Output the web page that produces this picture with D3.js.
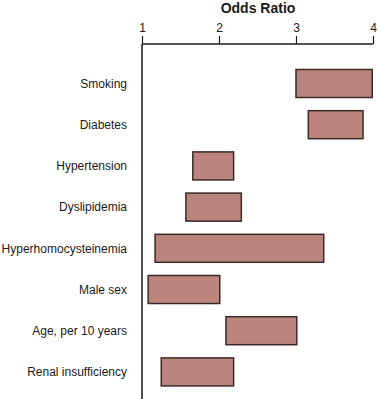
<!DOCTYPE html>
<html>
<head>
<meta charset="utf-8">
<script src="https://cdn.jsdelivr.net/npm/d3@7"></script>
<style>
  body { margin: 0; background: #fff; }
  svg { display: block; font-family: "Liberation Sans", Arial, sans-serif; }
</style>
</head>
<body>
<svg id="chart"></svg>
<script>
// factores de riesgo y rango del odds ratio
const factors = ["Smoking", "Diabetes", "Hypertension", "Dyslipidemia",
  "Hyperhomocysteinemia", "Male sex", "Age, per 10 years", "Renal insufficiency"];
const lowOR = [3.0, 3.16, 1.66, 1.57, 1.17, 1.08, 2.09, 1.25];
const highOR = [3.99, 3.87, 2.19, 2.29, 3.36, 2.01, 3.01, 2.19];
const ticks = [1, 2, 3, 4];

const width = 378, height = 399;
const margin = { top: 44, left: 142, right: 5 };

const data = factors.map((f, i) => ({ name: f, lo: lowOR[i], hi: highOR[i] }));

const svg = d3.select("#chart")
  .attr("width", width)
  .attr("height", height);

const x = d3.scaleLinear()
  .domain([1, 4])
  .range([margin.left, 373]);

const y = d3.scaleBand()
  .domain(factors)
  .range([62.9, 392.5])
  .paddingInner(0.32)
  .paddingOuter(0.16);

// titulo
svg.append("text")
  .attr("x", 258)
  .attr("y", 13)
  .attr("text-anchor", "middle")
  .attr("font-size", 14)
  .attr("font-weight", "bold")
  .attr("fill", "#1a1a1a")
  .text("Odds Ratio");

// eje superior
const axis = svg.append("g")
  .attr("transform", `translate(0,${margin.top})`)
  .style("color", "#1a1a1a")
  .call(d3.axisTop(x).tickValues(ticks).tickFormat(d3.format("d")).tickSize(8).tickPadding(4));
axis.select(".domain").attr("stroke-width", 1.5).attr("d", `M${x(1)},0H${x(4)}`);
axis.selectAll(".tick line").attr("stroke-width", 1.2);
axis.selectAll(".tick text").attr("font-size", 12).attr("fill", "#1a1a1a")
  .attr("font-family", "Liberation Sans, Arial, sans-serif");

// linea vertical en OR = 1
svg.append("line")
  .attr("x1", x(1)).attr("x2", x(1))
  .attr("y1", margin.top).attr("y2", height)
  .attr("stroke", "#1a1a1a")
  .attr("stroke-width", 1.5);

// etiquetas
svg.append("g")
  .selectAll("text")
  .data(data)
  .join("text")
  .attr("x", 127)
  .attr("y", d => y(d.name) + y.bandwidth() / 2)
  .attr("dy", "0.35em")
  .attr("text-anchor", "end")
  .attr("font-size", 12)
  .attr("fill", "#1a1a1a")
  .text(d => d.name);

// barras
svg.append("g")
  .selectAll("rect")
  .data(data)
  .join("rect")
  .attr("x", d => x(d.lo))
  .attr("y", d => y(d.name))
  .attr("width", d => x(d.hi) - x(d.lo))
  .attr("height", y.bandwidth())
  .attr("fill", "#bb857d")
  .attr("stroke", "#3a2a28")
  .attr("stroke-width", 1.5);
</script>
</body>
</html>
